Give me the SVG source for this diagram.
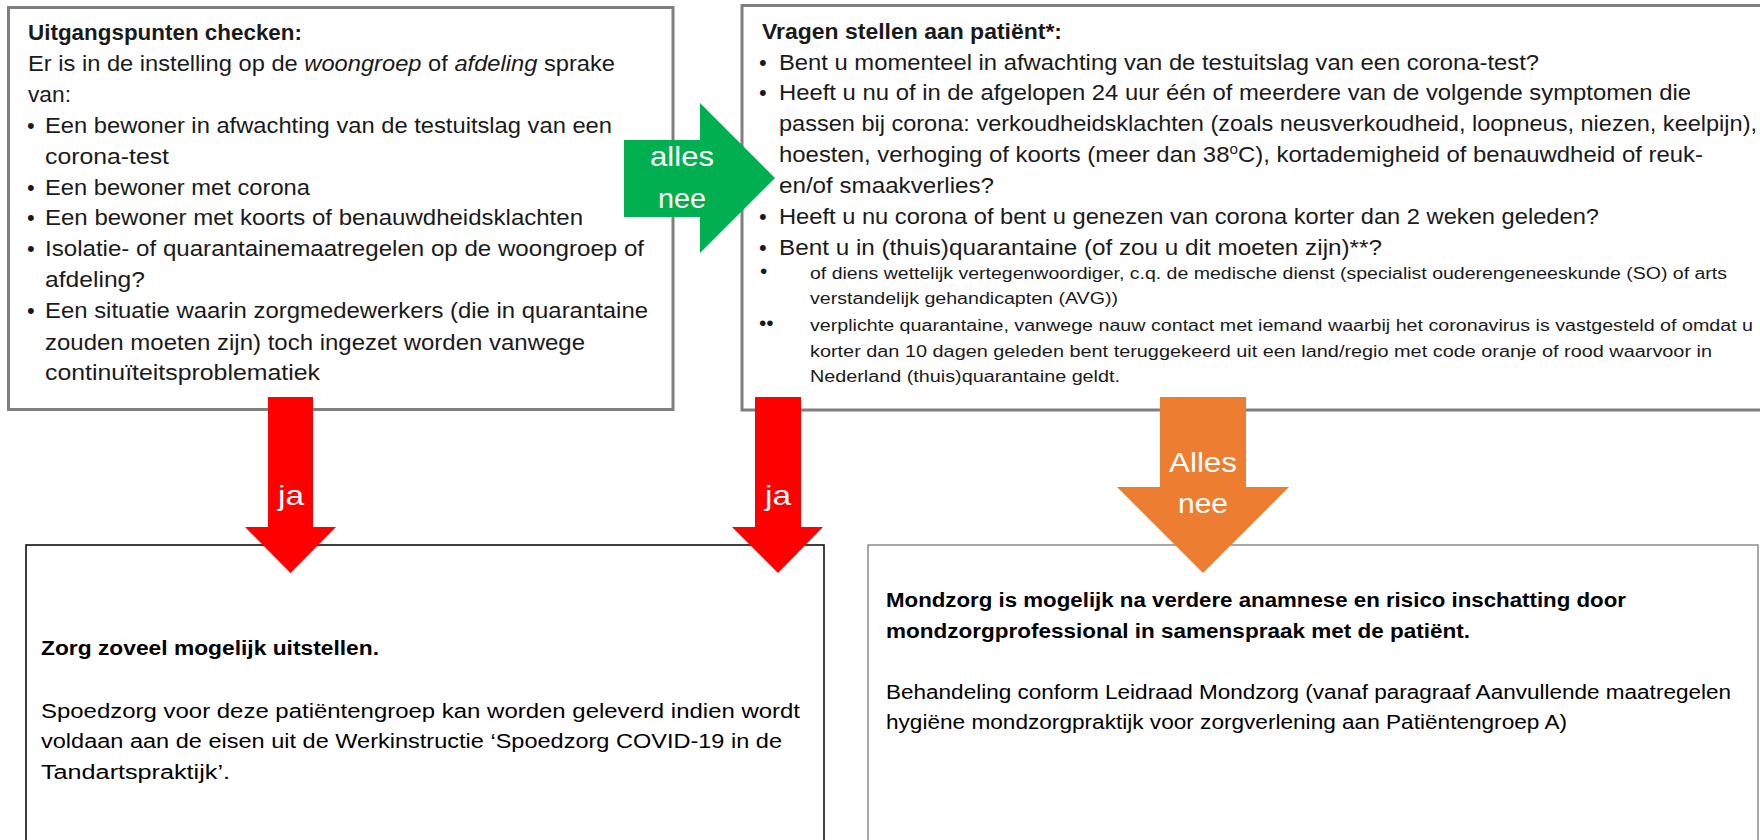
<svg xmlns="http://www.w3.org/2000/svg" width="1760" height="840" viewBox="0 0 1760 840">
<style>
text{font-family:"Liberation Sans",Arial,sans-serif;}
.t{font-size:22px;fill:#1a1a1a;}
.b{font-weight:bold;}
.i{font-style:italic;}
.fn{font-size:16px;fill:#1a1a1a;}
.fnm{font-size:21px;fill:#1a1a1a;}
.s{font-size:20px;fill:#000;}
.lbl{font-size:28px;fill:#ffffff;text-anchor:middle;}
.sup{font-size:14px;}
.box{fill:#ffffff;stroke:#7f7f7f;stroke-width:3;}
</style>
<rect width="1760" height="840" fill="#ffffff"/>

<g id="node-uitgangspunten">
<rect class="box" x="8.5" y="7.5" width="664.5" height="402"/>
<text class="t b" x="28" y="40" textLength="274" lengthAdjust="spacingAndGlyphs">Uitgangspunten checken:</text>
<text class="t" x="28" y="71" textLength="587" lengthAdjust="spacingAndGlyphs">Er is in de instelling op de <tspan class="i">woongroep</tspan> of <tspan class="i">afdeling</tspan> sprake</text>
<text class="t" x="28" y="102" textLength="43" lengthAdjust="spacingAndGlyphs">van:</text>
<text class="t" x="27" y="133">•</text>
<text class="t" x="45" y="133" textLength="567" lengthAdjust="spacingAndGlyphs">Een bewoner in afwachting van de testuitslag van een</text>
<text class="t" x="45" y="164" textLength="124" lengthAdjust="spacingAndGlyphs">corona-test</text>
<text class="t" x="27" y="195">•</text>
<text class="t" x="45" y="195" textLength="265" lengthAdjust="spacingAndGlyphs">Een bewoner met corona</text>
<text class="t" x="27" y="225">•</text>
<text class="t" x="45" y="225" textLength="538" lengthAdjust="spacingAndGlyphs">Een bewoner met koorts of benauwdheidsklachten</text>
<text class="t" x="27" y="256">•</text>
<text class="t" x="45" y="256" textLength="599" lengthAdjust="spacingAndGlyphs">Isolatie- of quarantainemaatregelen op de woongroep of</text>
<text class="t" x="45" y="287" textLength="100" lengthAdjust="spacingAndGlyphs">afdeling?</text>
<text class="t" x="27" y="318">•</text>
<text class="t" x="45" y="318" textLength="603" lengthAdjust="spacingAndGlyphs">Een situatie waarin zorgmedewerkers (die in quarantaine</text>
<text class="t" x="45" y="350" textLength="540" lengthAdjust="spacingAndGlyphs">zouden moeten zijn) toch ingezet worden vanwege</text>
<text class="t" x="45" y="380" textLength="275" lengthAdjust="spacingAndGlyphs">continuïteitsproblematiek</text>
</g>

<g id="node-vragen">
<rect class="box" x="742" y="5.5" width="1040" height="404.5"/>
<text class="t b" x="762" y="39" textLength="300" lengthAdjust="spacingAndGlyphs">Vragen stellen aan patiënt*:</text>
<text class="t" x="759" y="70">•</text>
<text class="t" x="779" y="70" textLength="760" lengthAdjust="spacingAndGlyphs">Bent u momenteel in afwachting van de testuitslag van een corona-test?</text>
<text class="t" x="759" y="100">•</text>
<text class="t" x="779" y="100" textLength="912" lengthAdjust="spacingAndGlyphs">Heeft u nu of in de afgelopen 24 uur één of meerdere van de volgende symptomen die</text>
<text class="t" x="779" y="131" textLength="978" lengthAdjust="spacingAndGlyphs">passen bij corona: verkoudheidsklachten (zoals neusverkoudheid, loopneus, niezen, keelpijn),</text>
<text class="t" x="779" y="162" textLength="924" lengthAdjust="spacingAndGlyphs">hoesten, verhoging of koorts (meer dan 38<tspan class="sup" baseline-shift="super">o</tspan>C), kortademigheid of benauwdheid of reuk-</text>
<text class="t" x="779" y="193" textLength="215" lengthAdjust="spacingAndGlyphs">en/of smaakverlies?</text>
<text class="t" x="759" y="224">•</text>
<text class="t" x="779" y="224" textLength="820" lengthAdjust="spacingAndGlyphs">Heeft u nu corona of bent u genezen van corona korter dan 2 weken geleden?</text>
<text class="t" x="759" y="255">•</text>
<text class="t" x="779" y="255" textLength="603" lengthAdjust="spacingAndGlyphs">Bent u in (thuis)quarantaine (of zou u dit moeten zijn)**?</text>
<text class="fnm" x="760" y="278">•</text>
<text class="fn" x="810" y="279" textLength="917" lengthAdjust="spacingAndGlyphs">of diens wettelijk vertegenwoordiger, c.q. de medische dienst (specialist ouderengeneeskunde (SO) of arts</text>
<text class="fn" x="810" y="304" textLength="308" lengthAdjust="spacingAndGlyphs">verstandelijk gehandicapten (AVG))</text>
<text class="fnm" x="759" y="330">••</text>
<text class="fn" x="810" y="331" textLength="943" lengthAdjust="spacingAndGlyphs">verplichte quarantaine, vanwege nauw contact met iemand waarbij het coronavirus is vastgesteld  of omdat u</text>
<text class="fn" x="810" y="357" textLength="902" lengthAdjust="spacingAndGlyphs">korter dan 10 dagen geleden bent teruggekeerd uit een land/regio met code oranje of rood waarvoor in</text>
<text class="fn" x="810" y="382" textLength="310" lengthAdjust="spacingAndGlyphs">Nederland (thuis)quarantaine geldt.</text>
</g>

<g id="node-uitstellen">
<rect x="26" y="545" width="798" height="320" fill="#ffffff" stroke="#000000" stroke-width="1.5"/>
<text class="s b" x="41" y="655" textLength="338" lengthAdjust="spacingAndGlyphs">Zorg zoveel mogelijk uitstellen.</text>
<text class="s" x="41" y="718" textLength="759" lengthAdjust="spacingAndGlyphs">Spoedzorg voor deze patiëntengroep kan worden geleverd indien wordt</text>
<text class="s" x="41" y="748" textLength="741" lengthAdjust="spacingAndGlyphs">voldaan aan de eisen uit de Werkinstructie  ‘Spoedzorg COVID-19 in de</text>
<text class="s" x="41" y="779" textLength="189" lengthAdjust="spacingAndGlyphs">Tandartspraktijk’.</text>
</g>

<g id="node-mondzorg">
<rect x="868" y="545" width="890" height="320" fill="#ffffff" stroke="#8c8c8c" stroke-width="1.5"/>
<text class="s b" x="886" y="607" textLength="740" lengthAdjust="spacingAndGlyphs">Mondzorg is mogelijk na verdere anamnese en risico inschatting door</text>
<text class="s b" x="886" y="638" textLength="584" lengthAdjust="spacingAndGlyphs">mondzorgprofessional in samenspraak met de patiënt.</text>
<text class="s" x="886" y="699" textLength="845" lengthAdjust="spacingAndGlyphs">Behandeling conform Leidraad Mondzorg (vanaf paragraaf Aanvullende maatregelen</text>
<text class="s" x="886" y="729" textLength="681" lengthAdjust="spacingAndGlyphs">hygiëne mondzorgpraktijk voor zorgverlening aan Patiëntengroep A)</text>
</g>

<g id="connectors">
<g id="arrow-alles-nee-green">
<polygon points="624,140 700,140 700,103 775,178 700,253 700,217 624,217" fill="#00b050"/>
<text class="lbl" x="682" y="166" textLength="64" lengthAdjust="spacingAndGlyphs">alles</text>
<text class="lbl" x="682" y="208" textLength="48" lengthAdjust="spacingAndGlyphs">nee</text>
</g>
<g id="arrow-ja-1">
<polygon points="268,397 313,397 313,527 336,527 290.5,573 245,527 268,527" fill="#ff0000"/>
<text class="lbl" x="291" y="505" textLength="26" lengthAdjust="spacingAndGlyphs">ja</text>
</g>
<g id="arrow-ja-2">
<polygon points="755,397 801,397 801,527 823,527 778,573 732,527 755,527" fill="#ff0000"/>
<text class="lbl" x="778" y="505" textLength="26" lengthAdjust="spacingAndGlyphs">ja</text>
</g>
<g id="arrow-alles-nee-orange">
<polygon points="1160,397 1246,397 1246,487 1289,487 1203,573 1117,487 1160,487" fill="#ed7d31"/>
<text class="lbl" x="1203" y="472" textLength="68" lengthAdjust="spacingAndGlyphs">Alles</text>
<text class="lbl" x="1203" y="513" textLength="50" lengthAdjust="spacingAndGlyphs">nee</text>
</g>
</g>
</svg>
